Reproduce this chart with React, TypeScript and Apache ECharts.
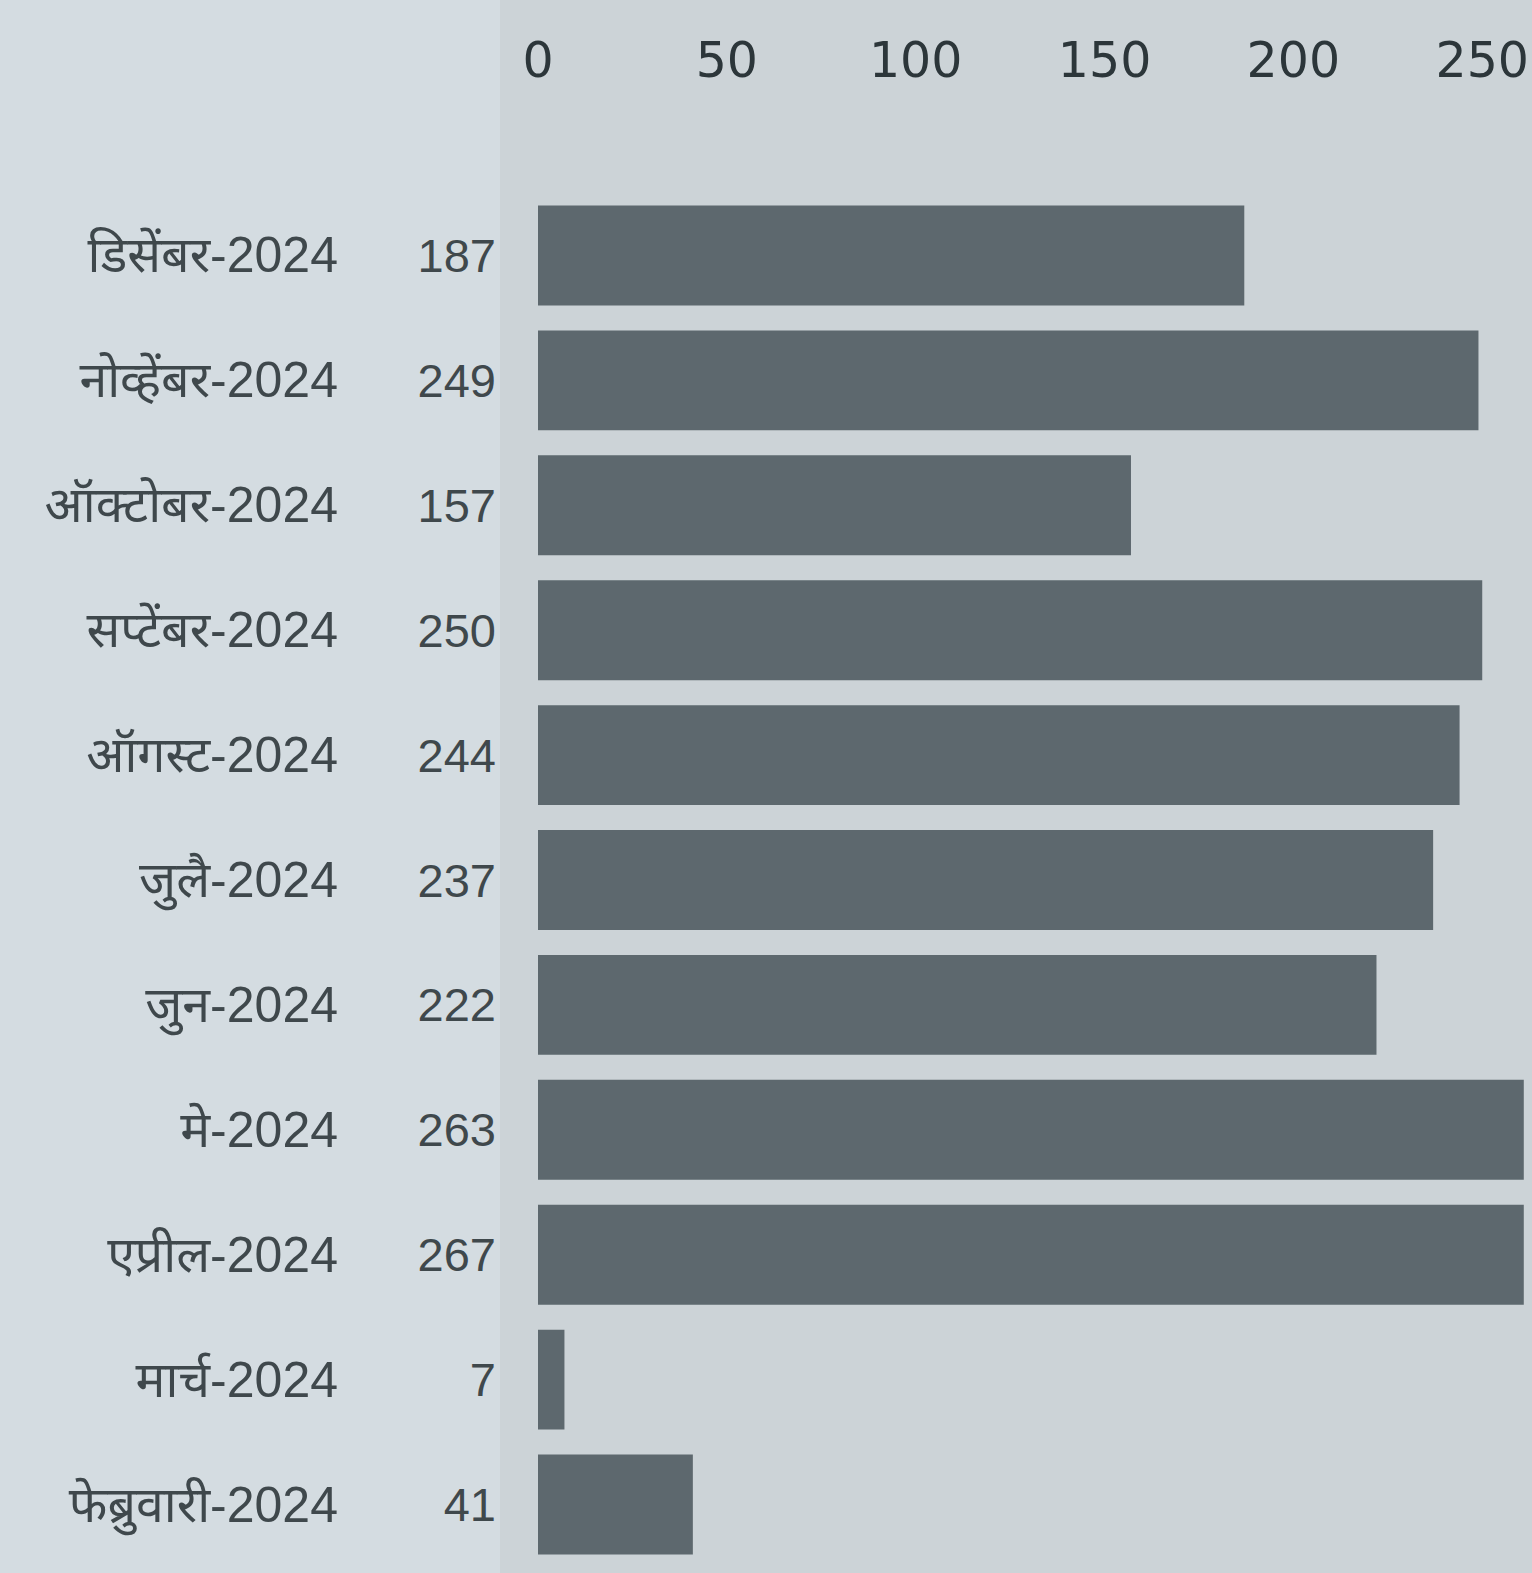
import React, { useEffect, useRef } from "react";
import * as echarts from "echarts";

const categories = [
  "डिसेंबर-2024",
  "नोव्हेंबर-2024",
  "ऑक्टोबर-2024",
  "सप्टेंबर-2024",
  "ऑगस्ट-2024",
  "जुलै-2024",
  "जुन-2024",
  "मे-2024",
  "एप्रील-2024",
  "मार्च-2024",
  "फेब्रुवारी-2024",
];
const values = [187, 249, 157, 250, 244, 237, 222, 263, 267, 7, 41];
const axisMin = 0;
const axisMax = 261;
const axisInterval = 50;

export default function App() {
  const ref = useRef<HTMLDivElement>(null);
  useEffect(() => {
    if (!ref.current) return;
    const chart = echarts.init(ref.current, null, { renderer: "svg" });
    chart.setOption({
      animation: false,
      backgroundColor: "#d4dce1",
      graphic: [
        {
          type: "rect",
          left: 500,
          top: 0,
          shape: { width: 1040, height: 1573 },
          style: { fill: "#ccd3d7" },
          z: -10,
          silent: true,
        },
      ],
      grid: { left: 538, right: 0, top: 193, bottom: 6, containLabel: false },
      xAxis: {
        type: "value",
        position: "top",
        min: axisMin,
        max: axisMax,
        interval: axisInterval,
        axisLine: { show: false },
        axisTick: { show: false },
        splitLine: { show: false },
        axisLabel: {
          showMaxLabel: false,
          margin: 108,
          fontSize: 49,
          color: "#2c363a",
          fontFamily: "DejaVu Sans",
        },
      },
      yAxis: {
        type: "category",
        inverse: true,
        data: categories,
        axisLine: { show: false },
        axisTick: { show: false },
        axisLabel: {
          margin: 200,
          fontSize: 50,
          color: "#3f484c",
          fontFamily: "Liberation Sans, Noto Sans, sans-serif",
        },
      },
      series: [
        {
          type: "bar",
          data: values,
          barCategoryGap: "20%",
          itemStyle: { color: "#5d686e" },
          label: {
            show: true,
            position: "left",
            distance: 42,
            fontSize: 47,
            color: "#3f484c",
            fontFamily: "Liberation Sans, Noto Sans, sans-serif",
          },
        },
      ],
    });
    return () => chart.dispose();
  }, []);
  return (
    <div
      ref={ref}
      style={{ position: "fixed", left: 0, top: 0, width: 1532, height: 1573 }}
    />
  );
}
